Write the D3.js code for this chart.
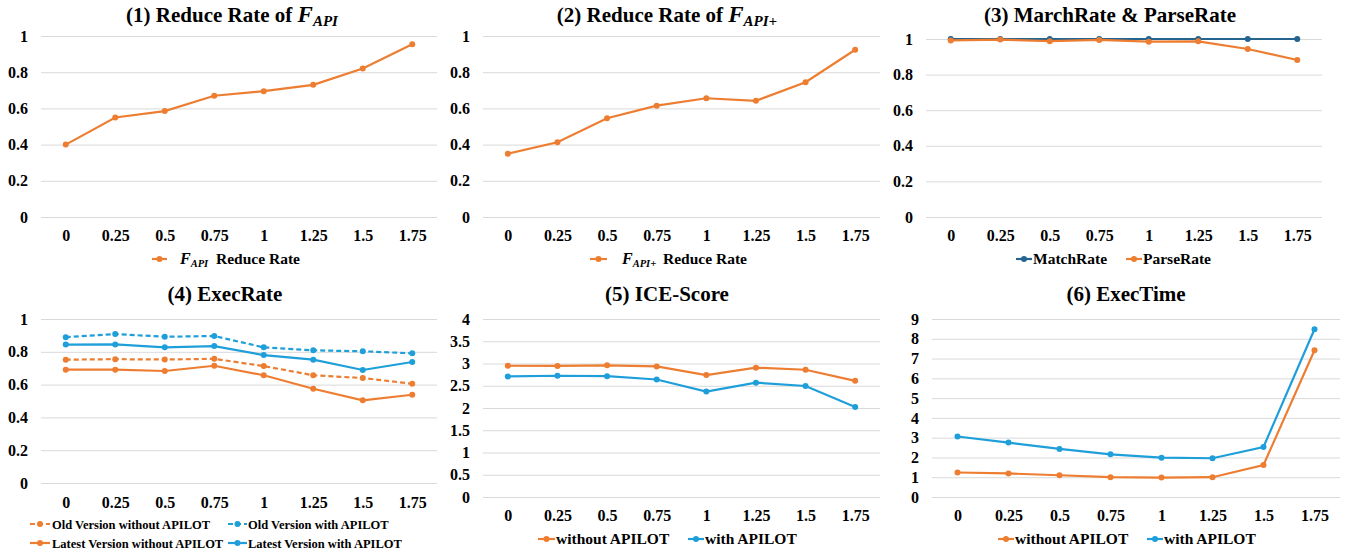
<!DOCTYPE html>
<html lang="en">
<head>
  <meta charset="UTF-8">
  <title>APILOT sensitivity charts</title>
  <script src="https://d3js.org/d3.v7.min.js"></script>
  <style>
    body { margin: 0; background: #fff; }
    svg { display: block; }
    text {
      font-family: "Liberation Serif", "Times New Roman", serif;
      font-weight: bold;
      fill: #000;
    }
    .grid line { stroke: #d9d9d9; stroke-width: 1; }
  </style>
</head>
<body>
  <svg width="1349" height="552"></svg>

  <script>
    const width = 1349, height = 552;

    // shared x categories
    const xLabels = ["0", "0.25", "0.5", "0.75", "1", "1.25", "1.5", "1.75"];

    // y tick values
    const rateTicks = [0, 0.2, 0.4, 0.6, 0.8, 1];
    const iceTicks = [0, 0.5, 1, 1.5, 2, 2.5, 3, 3.5, 4];
    const timeTicks = [0, 1, 2, 3, 4, 5, 6, 7, 8, 9];

    // (1) and (2)
    const reduceApi = [0.40, 0.55, 0.585, 0.67, 0.695, 0.73, 0.82, 0.955];
    const reduceApiPlus = [0.35, 0.413, 0.546, 0.615, 0.656, 0.642, 0.745, 0.924];

    // (3)
    const matchRate = [1, 1, 1, 1, 1, 1, 1, 1];
    const parseRate = [0.992, 0.997, 0.988, 0.995, 0.985, 0.987, 0.944, 0.882];

    // (4)
    const oldWithout = [0.752, 0.755, 0.753, 0.757, 0.713, 0.657, 0.640, 0.605];
    const oldWith = [0.889, 0.908, 0.892, 0.896, 0.827, 0.809, 0.803, 0.791];
    const latestWithout = [0.691, 0.691, 0.683, 0.715, 0.657, 0.575, 0.504, 0.538];
    const latestWith = [0.844, 0.845, 0.827, 0.835, 0.780, 0.752, 0.689, 0.738];

    // (5)
    const iceWithout = [2.95, 2.945, 2.96, 2.935, 2.74, 2.905, 2.86, 2.61];
    const iceWith = [2.71, 2.725, 2.715, 2.64, 2.37, 2.57, 2.495, 2.02];

    // (6)
    const timeWithout = [1.24, 1.19, 1.10, 1.00, 0.98, 1.00, 1.62, 7.42];
    const timeWith = [3.06, 2.75, 2.43, 2.16, 1.99, 1.96, 2.53, 8.48];

    const orange = "#ed7d31", blue = "#1f9fd9", navy = "#25648f";
    const serif = "Liberation Serif, Times New Roman, serif";

    const svg = d3.select("svg");

    // draws one small line chart
    function panel(cfg) {
      const g = svg.append("g");
      const x = d3.scalePoint().domain(xLabels).range([cfg.left, cfg.right]).padding(0.5);
      const y = d3.scaleLinear().domain(cfg.domain).range([cfg.bottom, cfg.top]);

      // gridlines + y labels
      g.append("g")
        .attr("class", "grid")
        .attr("transform", `translate(${cfg.left},0)`)
        .call(d3.axisLeft(y).tickValues(cfg.ticks).tickSize(-(cfg.right - cfg.left)).tickPadding(13).tickFormat(d => String(d)))
        .call(a => a.select(".domain").remove())
        .call(a => a.selectAll("text")
          .attr("font-size", 16)
          .attr("font-family", serif)
          .attr("font-weight", "bold")
          .attr("fill", "#000"));

      // x labels
      g.append("g")
        .attr("transform", `translate(0,${cfg.xLabelY})`)
        .call(d3.axisBottom(x).tickSize(0).tickPadding(0))
        .call(a => a.select(".domain").remove())
        .call(a => a.selectAll("text")
          .attr("dy", 0)
          .attr("font-size", 16)
          .attr("font-family", serif)
          .attr("font-weight", "bold")
          .attr("fill", "#000"));

      // series
      cfg.series.forEach(s => {
        const line = d3.line().x((d, i) => x(xLabels[i])).y(d => y(d));
        g.append("path")
          .datum(s.values)
          .attr("fill", "none")
          .attr("stroke", s.color)
          .attr("stroke-width", 2.2)
          .attr("stroke-dasharray", s.dash || null)
          .attr("d", line);
        g.selectAll(null)
          .data(s.values)
          .join("circle")
          .attr("cx", (d, i) => x(xLabels[i]))
          .attr("cy", d => y(d))
          .attr("r", 3)
          .attr("fill", s.color);
      });

      // title
      const t = g.append("text")
        .attr("x", cfg.titleX)
        .attr("y", cfg.titleY)
        .attr("text-anchor", "middle")
        .attr("font-size", 21);
      t.append("tspan").text(cfg.title);
      if (cfg.titleSub) {
        t.append("tspan").attr("font-style", "italic").attr("font-size", 23).text("F");
        t.append("tspan").attr("font-style", "italic").attr("font-size", 15).attr("dy", 4).text(cfg.titleSub);
      }

      // legend
      cfg.legend.forEach(L => {
        const s = cfg.series[L.i];
        g.append("line")
          .attr("x1", L.x1).attr("x2", L.x2)
          .attr("y1", L.y).attr("y2", L.y)
          .attr("stroke", s.color)
          .attr("stroke-width", 2.2)
          .attr("stroke-dasharray", s.dash || null);
        g.append("circle")
          .attr("cx", (L.x1 + L.x2) / 2).attr("cy", L.y).attr("r", 3)
          .attr("fill", s.color);
        const lt = g.append("text")
          .attr("x", L.tx)
          .attr("y", L.y + 5)
          .attr("font-size", cfg.legendSize || 15.5);
        if (L.sub) {
          lt.append("tspan").attr("font-style", "italic").attr("font-size", 16).text("F");
          lt.append("tspan").attr("font-style", "italic").attr("font-size", 10.5).attr("dy", 3).text(L.sub);
          lt.append("tspan").attr("x", L.tx2).attr("dy", -3).text(s.name);
        } else {
          lt.text(s.name);
        }
      });
    }

    panel({
      left: 41, right: 437, top: 36, bottom: 217, domain: [0, 1], ticks: rateTicks, xLabelY: 241,
      title: "(1) Reduce Rate of ", titleSub: "API", titleX: 232, titleY: 22,
      series: [{ name: "Reduce Rate", values: reduceApi, color: orange }],
      legend: [{ i: 0, x1: 152, x2: 167, y: 259, tx: 180, tx2: 216, sub: "API" }]
    });

    panel({
      left: 483, right: 880, top: 36, bottom: 217, domain: [0, 1], ticks: rateTicks, xLabelY: 241,
      title: "(2) Reduce Rate of ", titleSub: "API+", titleX: 667, titleY: 22,
      series: [{ name: "Reduce Rate", values: reduceApiPlus, color: orange }],
      legend: [{ i: 0, x1: 590, x2: 607, y: 259, tx: 622, tx2: 663, sub: "API+" }]
    });

    panel({
      left: 926, right: 1322, top: 39, bottom: 217, domain: [0, 1], ticks: rateTicks, xLabelY: 241,
      title: "(3) MarchRate & ParseRate", titleX: 1110, titleY: 22,
      series: [
        { name: "MatchRate", values: matchRate, color: navy },
        { name: "ParseRate", values: parseRate, color: orange }
      ],
      legend: [
        { i: 0, x1: 1016, x2: 1032, y: 259, tx: 1033 },
        { i: 1, x1: 1126, x2: 1142, y: 259, tx: 1143 }
      ]
    });

    panel({
      left: 41, right: 437, top: 319, bottom: 483, domain: [0, 1], ticks: rateTicks, xLabelY: 508,
      title: "(4) ExecRate", titleX: 225, titleY: 301, legendSize: 12.5,
      series: [
        { name: "Old Version without APILOT", values: oldWithout, color: orange, dash: "5,3" },
        { name: "Old Version with APILOT", values: oldWith, color: blue, dash: "5,3" },
        { name: "Latest Version without APILOT", values: latestWithout, color: orange },
        { name: "Latest Version with APILOT", values: latestWith, color: blue }
      ],
      legend: [
        { i: 0, x1: 30, x2: 50, y: 524, tx: 52 },
        { i: 1, x1: 228, x2: 247, y: 524, tx: 248 },
        { i: 2, x1: 30, x2: 50, y: 543, tx: 52 },
        { i: 3, x1: 228, x2: 247, y: 543, tx: 248 }
      ]
    });

    panel({
      left: 483, right: 880, top: 319, bottom: 497, domain: [0, 4], ticks: iceTicks, xLabelY: 521,
      title: "(5) ICE-Score", titleX: 667, titleY: 301,
      series: [
        { name: "without APILOT", values: iceWithout, color: orange },
        { name: "with APILOT", values: iceWith, color: blue }
      ],
      legend: [
        { i: 0, x1: 538, x2: 555, y: 539, tx: 556 },
        { i: 1, x1: 688, x2: 704, y: 539, tx: 705 }
      ]
    });

    panel({
      left: 932, right: 1340, top: 319, bottom: 497, domain: [0, 9], ticks: timeTicks, xLabelY: 521,
      title: "(6) ExecTime", titleX: 1126, titleY: 301,
      series: [
        { name: "without APILOT", values: timeWithout, color: orange },
        { name: "with APILOT", values: timeWith, color: blue }
      ],
      legend: [
        { i: 0, x1: 998, x2: 1014, y: 539, tx: 1015 },
        { i: 1, x1: 1147, x2: 1163, y: 539, tx: 1164 }
      ]
    });
  </script>
</body>
</html>
